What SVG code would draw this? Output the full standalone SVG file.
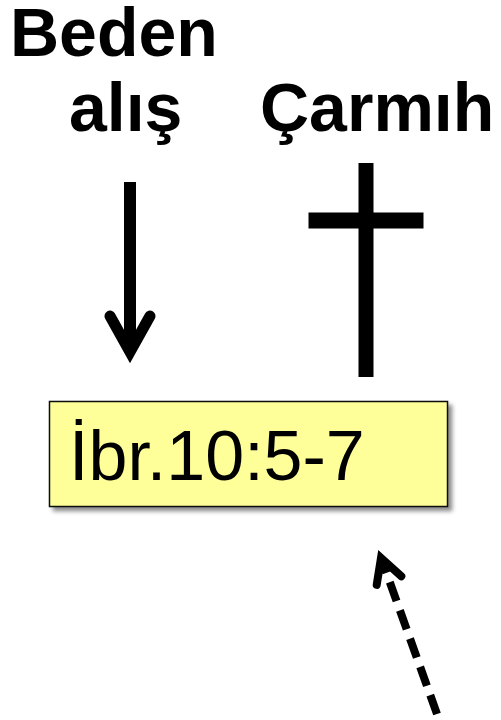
<svg xmlns="http://www.w3.org/2000/svg" width="501" height="720" viewBox="0 0 501 720">
<style>
.title{font-family:"Liberation Sans",Arial,sans-serif;font-weight:bold;font-size:68px;fill:#000}
.ref{font-family:"Liberation Sans",Arial,sans-serif;font-size:70px;fill:#000}
</style>
<defs>
<filter id="sh" x="-10%" y="-20%" width="125%" height="150%">
<feDropShadow dx="4" dy="4" stdDeviation="2" flood-color="#000" flood-opacity="0.45"/>
</filter>
</defs>
<g id="title-beden">
<text class="title" x="10" y="56">Beden</text>
<text class="title" x="69" y="131">alış</text>
</g>
<g id="title-carmih">
<text class="title" x="260" y="131">Çarmıh</text>
</g>
<g id="cross">
<rect x="358.5" y="163" width="15" height="214" fill="#000"/>
<rect x="308.5" y="212.5" width="115" height="16" fill="#000"/>
</g>
<g id="box">
<rect x="49.5" y="401.5" width="398" height="105" fill="#FFFF99" stroke="#111" stroke-width="1.5" filter="url(#sh)"/>
<text class="ref" x="69" y="480">İbr.10:5-7</text>
</g>
<g id="connectors" fill="none" stroke="#000">
<line x1="130" y1="182" x2="130" y2="350" stroke-width="12"/>
<polyline points="110,316 130,352 150,316" stroke-width="11" stroke-linecap="round" stroke-linejoin="miter"/>
<line x1="437" y1="714" x2="384" y2="566" stroke-width="8" stroke-dasharray="20 10"/>
<polyline points="376.7,584.9 381,558 401.3,576.3" stroke-width="8" stroke-linecap="round" stroke-linejoin="miter"/>
</g>
</svg>
